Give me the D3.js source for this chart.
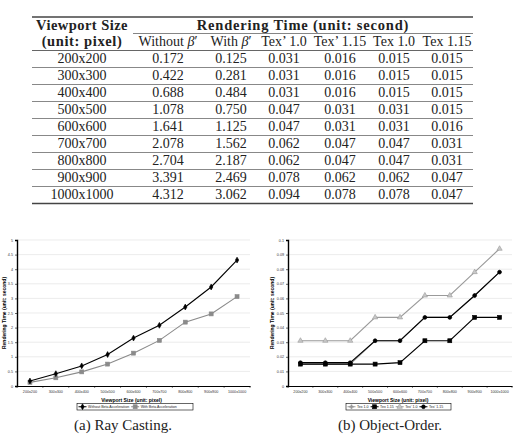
<!DOCTYPE html>
<html>
<head>
<meta charset="utf-8">
<script src="https://cdn.jsdelivr.net/npm/d3@7"></script>
<style>
  body { margin: 0; background: #fff; }
  svg { display: block; }
</style>
</head>
<body>
<div id="chart"></div>
<script>
// table + chart data
const sizes = ['200x200', '300x300', '400x400', '500x500', '600x600', '700x700', '800x800', '900x900', '1000x1000'];
const withoutBeta = [0.172, 0.422, 0.688, 1.078, 1.641, 2.078, 2.704, 3.391, 4.312];
const withBeta = [0.125, 0.281, 0.484, 0.750, 1.125, 1.562, 2.187, 2.469, 3.062];
const texP10 = [0.031, 0.031, 0.031, 0.047, 0.047, 0.062, 0.062, 0.078, 0.094];
const texP115 = [0.016, 0.016, 0.016, 0.031, 0.031, 0.047, 0.047, 0.062, 0.078];
const tex10 = [0.015, 0.015, 0.015, 0.031, 0.031, 0.047, 0.047, 0.062, 0.078];
const tex115 = [0.015, 0.015, 0.015, 0.015, 0.016, 0.031, 0.031, 0.047, 0.047];
const rayTicks = [0, 0.5, 1, 1.5, 2, 2.5, 3, 3.5, 4, 4.5, 5];
const objTicks = [0, 0.01, 0.02, 0.03, 0.04, 0.05, 0.06, 0.07, 0.08, 0.09, 0.1];

const W = 517, H = 437;
const svg = d3.select('#chart').append('svg').attr('width', W).attr('height', H);

// ---------- table ----------
const serif = '"Liberation Serif", "DejaVu Serif", serif';
const table = svg.append('g').attr('font-family', serif).attr('fill', '#222');
const tLeft = 32, tRight = 473;
const colX = [82, 168, 231, 284, 340, 394, 447];
const headTop = 50.5, rowH = 17;

const rule = (y, x0, x1, w, c) => table.append('line')
  .attr('x1', x0).attr('x2', x1).attr('y1', y).attr('y2', y)
  .attr('stroke', c).attr('stroke-width', w);

rule(17, tLeft, tRight, 1.3, '#444');
rule(33.5, 133, tRight, 0.8, '#666');
rule(headTop, tLeft, tRight, 1, '#666');

table.append('text').attr('x', colX[0]).attr('y', 29.5).attr('text-anchor', 'middle')
  .attr('font-weight', 'bold').attr('font-size', 14.5).attr('letter-spacing', 0.45).text('Viewport Size');
table.append('text').attr('x', 303).attr('y', 29.5).attr('text-anchor', 'middle')
  .attr('font-weight', 'bold').attr('font-size', 14.5).attr('letter-spacing', 0.8).text('Rendering Time (unit: second)');
table.append('text').attr('x', colX[0]).attr('y', 46).attr('text-anchor', 'middle')
  .attr('font-weight', 'bold').attr('font-size', 14.5).attr('letter-spacing', 0.6).text('(unit: pixel)');

const heads = [['Without ', true], ['With ', true], ['Tex’ 1.0'], ['Tex’ 1.15'], ['Tex 1.0'], ['Tex 1.15']];
heads.forEach((h, i) => {
  const t = table.append('text').attr('x', colX[i + 1]).attr('y', 46)
    .attr('text-anchor', 'middle').attr('font-size', 14);
  t.append('tspan').text(h[0]);
  if (h[1]) {
    t.append('tspan').attr('font-style', 'italic').text('β');
    t.append('tspan').text('′');
  }
});

const fmt = d3.format('.3f');
const cols = [withoutBeta, withBeta, texP10, texP115, tex10, tex115];
sizes.forEach((s, r) => {
  const top = headTop + r * rowH;
  const cells = [s].concat(cols.map(c => fmt(c[r])));
  cells.forEach((v, i) => {
    table.append('text').attr('x', colX[i]).attr('y', top + 12.5)
      .attr('text-anchor', 'middle').attr('font-size', 14).text(v);
  });
  const last = r === sizes.length - 1;
  rule(top + rowH, tLeft, tRight, last ? 1.3 : 1, last ? '#444' : '#888');
});

// ---------- charts ----------
const sans = '"Liberation Sans", Arial, sans-serif';

function marker(g, shape, x, y, col, fill) {
  if (shape === 'circle') {
    g.append('circle').attr('cx', x).attr('cy', y).attr('r', 1.9).attr('fill', fill).attr('stroke', col).attr('stroke-width', 0.6);
  } else if (shape === 'square') {
    g.append('rect').attr('x', x - 2).attr('y', y - 2).attr('width', 4).attr('height', 4).attr('fill', fill).attr('stroke', col).attr('stroke-width', 0.6);
  } else if (shape === 'triangle') {
    g.append('path').attr('d', d3.symbol(d3.symbolTriangle, 12)()).attr('transform', `translate(${x},${y})`)
      .attr('fill', fill).attr('stroke', col).attr('stroke-width', 0.6);
  } else if (shape === 'diamond') {
    g.append('path').attr('d', d3.symbol(d3.symbolDiamond, 10)()).attr('transform', `translate(${x},${y})`)
      .attr('fill', fill).attr('stroke', col).attr('stroke-width', 0.6);
  } else if (shape === 'plus') {
    g.append('path').attr('d', d3.symbol(d3.symbolCross, 8)()).attr('transform', `translate(${x},${y})`)
      .attr('fill', fill).attr('stroke', col).attr('stroke-width', 0.4);
  }
}

function drawChart(o) {
  const g = svg.append('g').attr('font-family', sans);
  const x = d3.scaleBand().domain(sizes).range([o.x0, o.x1]);
  const y = d3.scaleLinear().domain([0, o.ticks[o.ticks.length - 1]]).range([o.y1, o.y0]);

  // gridlines
  g.selectAll('.grid').data(o.ticks.slice(1)).enter().append('line')
    .attr('x1', o.x0).attr('x2', o.x1).attr('y1', d => y(d)).attr('y2', d => y(d))
    .attr('stroke', '#e4e4e4').attr('stroke-width', 0.7);

  const xa = g.append('g').attr('transform', `translate(0,${o.y1})`)
    .call(d3.axisBottom(x).tickSize(0).tickPadding(4));
  xa.select('.domain').attr('stroke', '#000').attr('stroke-width', 1);
  xa.selectAll('text').attr('font-size', 3.7).attr('font-family', sans).attr('fill', '#333');
  // tick marks between categories
  xa.selectAll('.sep').data(d3.range(sizes.length + 1)).enter().append('line')
    .attr('x1', i => o.x0 + i * x.step()).attr('x2', i => o.x0 + i * x.step())
    .attr('y1', 0).attr('y2', 1.8).attr('stroke', '#000').attr('stroke-width', 0.6);

  const ya = g.append('g').attr('transform', `translate(${o.x0},0)`)
    .call(d3.axisLeft(y).tickValues(o.ticks).tickSize(2).tickPadding(2).tickFormat(d => String(+d.toFixed(3))));
  ya.select('.domain').attr('stroke', '#000').attr('stroke-width', 1.4);
  ya.selectAll('line').attr('stroke', '#000').attr('stroke-width', 0.6);
  ya.selectAll('text').attr('font-size', 3.7).attr('font-family', sans).attr('fill', '#333');

  g.append('text').attr('x', (o.x0 + o.x1) / 2 - 2).attr('y', o.y1 + 15.5).attr('text-anchor', 'middle')
    .attr('font-size', 5).attr('font-weight', 'bold').text('Viewport Size (unit: pixel)');
  g.append('text').attr('transform', `translate(${o.yTitleX},${(o.y0 + o.y1) / 2}) rotate(-90)`)
    .attr('text-anchor', 'middle').attr('font-size', 5).attr('font-weight', 'bold')
    .text('Rendering Time (unit: second)');

  const line = d3.line().x((d, i) => x(sizes[i]) + x.bandwidth() / 2).y(d => y(d));
  o.series.forEach(s => {
    g.append('path').datum(s.values).attr('d', line).attr('fill', 'none')
      .attr('stroke', s.color).attr('stroke-width', 1.1);
    s.values.forEach((v, i) => marker(g, s.shape, x(sizes[i]) + x.bandwidth() / 2, y(v), s.color, s.fill));
  });

  // legend
  const lg = g.append('g');
  lg.append('rect').attr('x', o.legend.x).attr('y', o.legend.y).attr('width', o.legend.w).attr('height', 6.5)
    .attr('fill', '#fff').attr('stroke', '#000').attr('stroke-width', 0.6);
  let lx = o.legend.x + 1.5;
  const ly = o.legend.y + 3.25;
  o.legendOrder.forEach(s => {
    lg.append('line').attr('x1', lx).attr('x2', lx + 8).attr('y1', ly).attr('y2', ly)
      .attr('stroke', s.color).attr('stroke-width', 1);
    marker(lg, s.shape, lx + 4, ly, s.color, s.fill);
    const t = lg.append('text').attr('x', lx + 9.5).attr('y', ly + 1.3).attr('font-size', 3.6).attr('fill', '#222').text(s.name);
    lx += 9.5 + t.node().getComputedTextLength() + 2;
  });

  g.append('text').attr('x', o.caption.x).attr('y', o.caption.y).attr('text-anchor', 'middle')
    .attr('font-family', serif).attr('font-size', 15).attr('fill', '#222').text(o.caption.text);
}

const sWithout = { name: 'Without Beta Acceleration', values: withoutBeta, color: '#000', shape: 'diamond', fill: '#000' };
const sWith = { name: 'With Beta Acceleration', values: withBeta, color: '#8a8a8a', shape: 'square', fill: '#8a8a8a' };
drawChart({
  x0: 17, x1: 250, y0: 240, y1: 386, ticks: rayTicks, yTitleX: 6.3,
  series: [sWith, sWithout], legendOrder: [sWithout, sWith],
  legend: { x: 77, y: 403.5, w: 116 },
  caption: { x: 123, y: 430, text: '(a) Ray Casting.' }
});

const sTex10 = { name: 'Tex 1.0', values: tex10, color: '#9a9a9a', shape: 'plus', fill: '#9a9a9a' };
const sTex115 = { name: 'Tex 1.15', values: tex115, color: '#000', shape: 'square', fill: '#000' };
const sTexP10 = { name: 'Tex’ 1.0', values: texP10, color: '#9a9a9a', shape: 'triangle', fill: '#c8c8c8' };
const sTexP115 = { name: 'Tex’ 1.15', values: texP115, color: '#000', shape: 'circle', fill: '#000' };
drawChart({
  x0: 288, x1: 512, y0: 240, y1: 386, ticks: objTicks, yTitleX: 273.5,
  series: [sTexP10, sTex10, sTex115, sTexP115], legendOrder: [sTex10, sTex115, sTexP10, sTexP115],
  legend: { x: 346, y: 403.5, w: 105 },
  caption: { x: 390, y: 430, text: '(b) Object-Order.' }
});
</script>
</body>
</html>
